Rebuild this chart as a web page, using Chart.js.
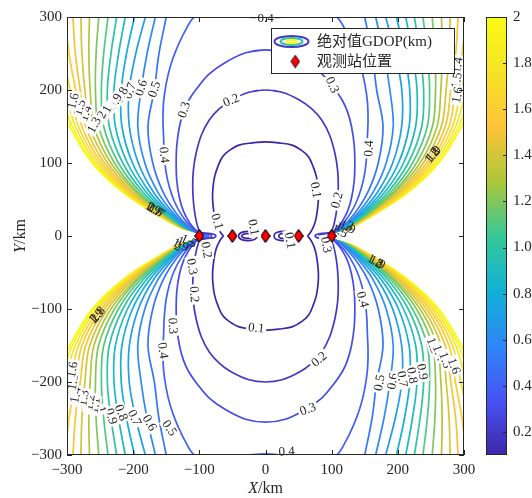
<!DOCTYPE html>
<html><head><meta charset="utf-8">
<script src="https://cdn.jsdelivr.net/npm/chart.js@4.4.1/dist/chart.umd.min.js"></script>
<style>
html,body{margin:0;padding:0;background:#ffffff;overflow:hidden;}
#wrap{position:relative;width:532px;height:498px;}
canvas{position:absolute;top:0;}
</style></head><body>
<div id="wrap">
<canvas id="main" width="532" height="498" style="left:0;width:532px;height:498px"></canvas>
<canvas id="cbar" width="66" height="498" style="left:466px;width:66px;height:498px"></canvas>
</div>
<script>
// ---------------- data ----------------
const levels = [0.1,0.2,0.3,0.4,0.5,0.6,0.7,0.8,0.9,1.0,1.1,1.2,1.3,1.4,1.5,1.6,1.7,1.8,1.9,2.0];
const stationX = [-100,-50,0,50,100];
const stationY = [0,0,0,0,0];
const xTickValues = [-300,-200,-100,0,100,200,300];
const yTickValues = [-300,-200,-100,0,100,200,300];
const cbarTickValues = [0.2,0.4,0.6,0.8,1.0,1.2,1.4,1.6,1.8,2.0];
const cbarTickLabels = ['0.2','0.4','0.6','0.8','1.0','1.2','1.4','1.6','1.8','2'];
const colorLimits = [0.1, 2.0];

// contour traces in the upper-left quadrant [x km, y km]; the figure is mirror-symmetric about both axes
const lv01 = [[0,129],[-20,127.5],[-40,124.5],[-55,117],[-65,108.7],[-72,95],[-77,81],[-79.5,65],[-80,52],[-79,40],[-77,27],[-74,16],[-70,8],[-66.5,3],[-64,0]];
const lv02 = [[0,200],[-25,197],[-52,186],[-70,174],[-85,159],[-97,138],[-105,113],[-109,90],[-110,68],[-109,48],[-107,32],[-104,18],[-101,9],[-98,5],[-90,3.8],[-81,3],[-76.5,1.6],[-75,0]];
const lv03 = [[0,255],[-30,251],[-60,238],[-85,222],[-103,203],[-116,186],[-124,170],[-130,150],[-134,125],[-135,100],[-134,75],[-130,52],[-124,34],[-116,20],[-108,10.5],[-102,6],[-96,4.2],[-88,3.3],[-83,1.8],[-81.5,0]];
const lv04 = [[0,298.5],[-30,300.2],[-60,301.5],[-90,301.8],[-107,300.5],[-122,280],[-135,255],[-144,232],[-150,209],[-154,184],[-155,159],[-154,135],[-153,111],[-150,86],[-145,66],[-138,48],[-129,32],[-119,19],[-110,10.5],[-104,6],[-99,4],[-92,3],[-87.5,1.6],[-86,0]];
const lv05 = [[-146,320],[-150,300],[-161,250],[-168,200],[-177.6,150],[-170.4,100],[-154.7,60],[-134.1,30],[-115.7,12],[-104,5.2],[-100,3.7],[-94.2,2.7],[-89.3,1.4],[-88.5,0]];
const lv06 = [[-161.5,320],[-166.5,300],[-179,250],[-188,200],[-193,150],[-182.4,100],[-162.7,60],[-138.3,30],[-117.6,12],[-104,5.2],[-100,3.7],[-95.2,2.7],[-91.3,1.4],[-90.5,0]];
const lv07 = [[-175.8,320],[-181.6,300],[-196,250],[-206,200],[-205.8,150],[-192.2,100],[-169.3,60],[-141.7,30],[-119.1,12],[-104,5.2],[-100,3.7],[-96,2.7],[-92.8,1.4],[-92,0]];
const lv08 = [[-193.2,320],[-198,300],[-210,250],[-218,200],[-217,150],[-201,100],[-175.1,60],[-144.7,30],[-120.5,12],[-104,5.2],[-100,3.7],[-96.5,2.7],[-93.8,1.4],[-93,0]];
const lv09 = [[-208,320],[-212,300],[-222,250],[-229,200],[-226.9,150],[-208.6,100],[-180.2,60],[-147.4,30],[-121.7,12],[-104,5.2],[-100,3.7],[-97,2.7],[-94.8,1.4],[-94,0]];
const lv10 = [[-221.6,320],[-225,300],[-233.5,250],[-239,200],[-236.1,150],[-215.7,100],[-185,60],[-149.9,30],[-122.8,12],[-104,5.2],[-100,3.7],[-97.4,2.7],[-95.6,1.4],[-94.8,0]];
const lv11 = [[-235.4,320],[-238,300],[-244.5,250],[-248,200],[-244.5,150],[-222.2,100],[-189.4,60],[-152.1,30],[-123.9,12],[-104,5.2],[-100,3.7],[-97.7,2.7],[-96.2,1.4],[-95.4,0]];
const lv12 = [[-250.4,320],[-252,300],[-256,250],[-257,200],[-252.3,150],[-228.2,100],[-193.4,60],[-154.2,30],[-124.7,12],[-104,5.2],[-100,3.7],[-98,2.7],[-96.8,1.4],[-96,0]];
const lv13 = [[-265.6,320],[-266,300],[-267,250],[-265,200],[-259.3,150],[-233.7,100],[-196.3,60],[-156.1,30],[-125.6,12],[-104,5.2],[-100,3.7],[-98.2,2.7],[-97.2,1.4],[-96.5,0]];
const lv14 = [[-279.6,320],[-279,300],[-277.5,250],[-273,200],[-265.7,150],[-238.6,100],[-200.3,60],[-157.8,30],[-126.4,12],[-104,5.2],[-100,3.7],[-98.4,2.7],[-97.5,1.4],[-96.9,0]];
const lv15 = [[-292.4,320],[-291,300],[-287.5,250],[-280,200],[-271.7,150],[-243.3,100],[-203.4,60],[-159.5,30],[-127.1,12],[-104,5.2],[-100,3.7],[-98.6,2.7],[-97.8,1.4],[-97.3,0]];
const lv16 = [[-305.4,320],[-303,300],[-297,250],[-287,200],[-277.4,150],[-247.6,100],[-206.4,60],[-161,30],[-127.8,12],[-104,5.2],[-100,3.7],[-98.8,2.7],[-98.1,1.4],[-97.6,0]];
const lv17 = [[-318.2,320],[-315,300],[-307,250],[-295,200],[-282.6,150],[-251.6,100],[-209.1,60],[-162.4,30],[-128.4,12],[-104,5.2],[-100,3.7],[-99,2.7],[-98.4,1.4],[-97.9,0]];
const lv18 = [[-330,320],[-326,300],[-316,250],[-303,200],[-287.5,150],[-255.5,100],[-211.6,60],[-163.7,30],[-129,12],[-104,5.2],[-100,3.7],[-99.2,2.7],[-98.7,1.4],[-98.2,0]];
const lv19 = [[-341.4,320],[-337,300],[-326,250],[-311,200],[-292,150],[-259,100],[-214,60],[-164.9,30],[-129.5,12],[-104,5.2],[-100,3.7],[-99.3,2.7],[-98.8,1.4],[-98.4,0]];
const lv20 = [[-352.8,320],[-348,300],[-336,250],[-320,200],[-296,150],[-262,100],[-216,60],[-166,30],[-130,12],[-104,5.2],[-100,3.7],[-99.4,2.7],[-99,1.4],[-98.6,0]];
// small closed 0.1 loops between the inner stations (left one; right one is its mirror)
const loopOuter = [[-41,0],[-38,4],[-31,6],[-22,6],[-15,4],[-13,0],[-15,-4],[-22,-6],[-31,-6],[-38,-4],[-41,0]];
const loopInner = [[-36,0],[-34,2.2],[-29,3.2],[-24,3.2],[-21,2],[-20,0],[-21,-2],[-24,-3.2],[-29,-3.2],[-34,-2.2],[-36,0]];

// inline contour labels [text, x, y, angle]
const contourLabels = [
 ['0.4',0,298.5,0],['0.4',32,-295,-3],['0.1',-14,-126,6],
 ['0.2',-52,186,-24],['0.3',-123,173,-72],['0.4',-153,111,84],['0.5',-168,201,-72],['0.6',-188,203,-72],['0.7',-205,199,-70],
 ['0.8',-218,193,-62],['0.9',-227,184,-62],['1',-235,176,-62],['1.1',-243,168,-62],['1.2',-251,160,-62],['1.3',-259,152,-62],
 ['1.4',-272,168,-70],['1.5',-281,176,-72],['1.6',-291,185,-75],['0.1',-73,20,72],
 ['0.3',101,207,66],['0.4',156,120,-88],['0.1',76,63,80],['0.2',108,49,-76],
 ['1.4',290,234,-80],['1.5',289,213,-80],['1.6',290,193,-80],
 ['0.2',81,-169,-40],['0.3',64,-237,-20],['0.4',147,-87,75],['0.5',172,-201,-80],['0.6',192,-199,-80],['0.7',207,-196,80],['0.8',222,-191,80],['0.9',237,-186,80],
 ['1.3',253,-150,70],['1.4',262,-160,70],['1.5',272,-170,70],['1.6',285,-178,70],
 ['0.2',-107.5,-80,86],['0.3',-140,-123,86],['0.4',-155,-157,82],['0.5',-145,-263,55],['0.6',-175,-256,60],['0.7',-198,-249,64],['0.8',-218,-242,68],['0.9',-233,-247,72],
 ['1',-248,-238,75],['1.1',-258,-232,-80],['1.2',-266,-228,-80],['1.3',-275,-222,-80],['1.4',-287,-218,-80],['1.5',-291,-200,-80],['1.6',-292,-183,-80],
 ['0.1',-18,12,80],['0.1',37,-6,80],['0.2',-89,-19,80],['0.3',-111,-42,80],['0.3',92,-12,80]
];
// piled-up labels where the high-level contours crowd together [text, x, y, angle]
const crowdedLabels = [
 ['1.9',-170,38,28],['1.8',-167,36,28],['2',-173,40,28],['1.7',-164,34,28],
 ['1.9',254,113,-48],['1.8',252,110,-48],['2',256,116,-48],
 ['1.9',-256,-110,-45],['1.8',-254,-107,-45],['2',-258,-113,-45],
 ['1.9',169,-36,28],['1.8',166,-34,28],['2',172,-38,28],
 ['1.9',-128,-12,25],['1.7',-122,-10,25],['1.5',-116,-7,25],['2',-132,-14,25],
 ['1.9',124,12,25],['1.7',118,10,25],['1.5',112,7,25],['2',128,14,25]
];

// ---------------- styling ----------------
const PARULA = [[0,0.2422,0.1504,0.6603],[0.125,0.2810,0.3228,0.9579],[0.25,0.1786,0.5289,0.9682],[0.375,0.0689,0.6948,0.8394],[0.5,0.2161,0.7843,0.5923],[0.625,0.6720,0.7793,0.2227],[0.75,0.9970,0.7659,0.2199],[0.875,0.9610,0.8890,0.1537],[1,0.9769,0.9839,0.0805]];
function parula(t){
  t = Math.max(0, Math.min(1, t));
  for (let i = 1; i < PARULA.length; i++) {
    if (t <= PARULA[i][0]) {
      const a = PARULA[i-1], b = PARULA[i], f = (t - a[0]) / (b[0] - a[0]);
      const c = [1,2,3].map(k => Math.round(255 * (a[k] + (b[k] - a[k]) * f)));
      return 'rgb(' + c.join(',') + ')';
    }
  }
  return 'rgb(249,251,21)';
}
function levelColor(v){ return parula((v - colorLimits[0]) / (colorLimits[1] - colorLimits[0])); }
const AX = '#262626';
const SERIF = '"Liberation Serif", "Times New Roman", serif';
function fmtNum(v){ const s = String(Math.round(v * 10) / 10); return v < 0 ? '\u2212' + s.slice(1) : s; }

// diamond marker
const diamondImg = document.createElement('canvas');
diamondImg.width = 10; diamondImg.height = 14;
(function(){
  const d = diamondImg.getContext('2d');
  d.beginPath(); d.moveTo(5,0.7); d.lineTo(9.3,7); d.lineTo(5,13.3); d.lineTo(0.7,7); d.closePath();
  d.fillStyle = '#ff0000'; d.fill(); d.strokeStyle = '#000'; d.lineWidth = 0.9; d.stroke();
})();

// ---------------- datasets ----------------
const traces = [lv01,lv02,lv03,lv04,lv05,lv06,lv07,lv08,lv09,lv10,lv11,lv12,lv13,lv14,lv15,lv16,lv17,lv18,lv19,lv20];
const toPts = arr => arr.map(([x,y]) => ({x, y}));
const datasets = [{
  label: 'stations', data: stationX.map((x,i) => ({x, y: stationY[i]})),
  pointStyle: diamondImg, pointRadius: 5, showLine: false, order: 0, clip: false
}];
levels.forEach((lv, i) => {
  const q = traces[i];
  const left = q.concat(q.slice(0, -1).reverse().map(([x,y]) => [x, -y]));
  const right = left.map(([x,y]) => [-x, y]);
  const col = levelColor(lv);
  const base = {showLine: true, borderColor: col, backgroundColor: col, borderWidth: 1.7, pointRadius: 0,
    pointHoverRadius: 0, tension: 0.35, fill: false, clip: 0, order: 1};
  if (q[0][0] === 0) {
    const loop = [right[1]].concat(left, right.slice().reverse().slice(1), [left[1]]);
    datasets.push(Object.assign({}, base, {data: toPts(loop)}));
  } else {
    datasets.push(Object.assign({}, base, {data: toPts(left)}));
    datasets.push(Object.assign({}, base, {data: toPts(right)}));
  }
});
[loopOuter, loopInner].forEach(l => {
  const wrapped = [l[l.length - 2]].concat(l, [l[1]]);
  const col = levelColor(levels[0]);
  [wrapped, wrapped.map(([x,y]) => [-x, y])].forEach(w => datasets.push({
    showLine: true, borderColor: col, borderWidth: 1.7, pointRadius: 0, tension: 0.35, fill: false, clip: 0, order: 1, data: toPts(w)
  }));
});

// ---------------- plugins ----------------
const labelPlugin = {
  id: 'clabels',
  afterDatasetsDraw(chart){
    const {ctx, scales: {x, y}} = chart;
    ctx.save();
    ctx.font = '13px ' + SERIF; ctx.textAlign = 'center'; ctx.textBaseline = 'middle';
    for (const [t, lx, ly, ang] of contourLabels) {
      ctx.save();
      ctx.translate(x.getPixelForValue(lx), y.getPixelForValue(ly));
      ctx.rotate(ang * Math.PI / 180);
      const w = ctx.measureText(t).width;
      ctx.fillStyle = '#ffffff'; ctx.fillRect(-w/2 - 2, -6, w + 4, 12);
      ctx.fillStyle = AX; ctx.fillText(t, 0, 0.5);
      ctx.restore();
    }
    for (const [t, lx, ly, ang] of crowdedLabels) {
      ctx.save();
      ctx.translate(x.getPixelForValue(lx), y.getPixelForValue(ly));
      ctx.rotate(ang * Math.PI / 180);
      ctx.fillStyle = AX; ctx.fillText(t, 0, 0.5);
      ctx.restore();
    }
    ctx.restore();
  }
};
const stationOnTop = {
  id: 'stationsTop',
  afterDatasetsDraw(chart){
    const {ctx, scales: {x, y}} = chart;
    stationX.forEach((sx, i) => {
      const px = x.getPixelForValue(sx), py = y.getPixelForValue(stationY[i]);
      ctx.drawImage(diamondImg, px - diamondImg.width / 2, py - diamondImg.height / 2);
    });
  }
};
function drawMixed(ctx, parts, cx, cy){
  let total = 0;
  parts.forEach(p => { ctx.font = p[1]; p.w = ctx.measureText(p[0]).width; total += p.w; });
  let xx = cx - total / 2;
  parts.forEach(p => { ctx.font = p[1]; ctx.fillText(p[0], xx, cy); xx += p.w; });
}
const framePlugin = {
  id: 'frame',
  afterDraw(chart){
    const {ctx, chartArea: a, scales: {x, y}} = chart;
    ctx.save();
    ctx.strokeStyle = AX; ctx.lineWidth = 1;
    ctx.strokeRect(a.left + 0.5, a.top + 0.5, a.right - a.left - 1, a.bottom - a.top - 1);
    ctx.beginPath();
    xTickValues.forEach(v => {
      const px = Math.round(x.getPixelForValue(v)) + 0.5;
      ctx.moveTo(px, a.bottom); ctx.lineTo(px, a.bottom - 5);
      ctx.moveTo(px, a.top); ctx.lineTo(px, a.top + 5);
    });
    yTickValues.forEach(v => {
      const py = Math.round(y.getPixelForValue(v)) + 0.5;
      ctx.moveTo(a.left, py); ctx.lineTo(a.left + 5, py);
      ctx.moveTo(a.right, py); ctx.lineTo(a.right - 5, py);
    });
    ctx.stroke();
    // axis titles
    ctx.fillStyle = AX; ctx.textAlign = 'left'; ctx.textBaseline = 'middle';
    drawMixed(ctx, [['X', 'italic 16px ' + SERIF], ['/km', '16px ' + SERIF]], (a.left + a.right) / 2, 489);
    ctx.save(); ctx.translate(21, (a.top + a.bottom) / 2); ctx.rotate(-Math.PI / 2);
    drawMixed(ctx, [['Y', 'italic 16px ' + SERIF], ['/km', '16px ' + SERIF]], 0, 0);
    ctx.restore();
    // legend
    const L = 271.5, T = 28.5, W = 183, H = 45;
    ctx.fillStyle = '#ffffff'; ctx.fillRect(L, T, W, H);
    ctx.strokeStyle = AX; ctx.lineWidth = 1; ctx.strokeRect(L, T, W, H);
    const cx = 291.5, cy = 41.5;
    [[17, 5.6, levelColor(0.2)], [11, 3.6, levelColor(1.0)], [5, 1.7, levelColor(2.0)]].forEach(([rx, ry, c]) => {
      ctx.beginPath(); ctx.ellipse(cx, cy, rx, ry, 0, 0, Math.PI * 2);
      ctx.strokeStyle = c; ctx.lineWidth = 2; ctx.stroke();
    });
    ctx.drawImage(diamondImg, 295.3 - diamondImg.width / 2, 61.5 - diamondImg.height / 2);
    ctx.fillStyle = AX; ctx.textAlign = 'left'; ctx.textBaseline = 'middle';
    ctx.font = '15px ' + SERIF + ', "Noto Sans CJK SC"';
    ctx.fillText('绝对值GDOP(km)', 317, 42);
    ctx.fillText('观测站位置', 317, 62);
    ctx.restore();
  }
};

const tickFont = {family: SERIF, size: 15};
new Chart(document.getElementById('main'), {
  type: 'scatter',
  data: {datasets},
  options: {
    responsive: false, animation: false, events: [],
    layout: {padding: {top: 17, right: 68, left: 0, bottom: 0}},
    plugins: {legend: {display: false}, tooltip: {enabled: false}},
    scales: {
      x: {type: 'linear', min: -300, max: 300,
        afterBuildTicks: s => { s.ticks = xTickValues.map(v => ({value: v})); },
        afterFit: s => { s.height = 43; },
        grid: {display: false, drawTicks: false}, border: {display: false},
        ticks: {padding: 6, color: AX, font: tickFont, maxRotation: 0, autoSkip: false, callback: v => fmtNum(v)}},
      y: {type: 'linear', min: -300, max: 300,
        afterBuildTicks: s => { s.ticks = yTickValues.map(v => ({value: v})); },
        afterFit: s => { s.width = 67; },
        grid: {display: false, drawTicks: false}, border: {display: false},
        ticks: {padding: 5, color: AX, font: tickFont, autoSkip: false, callback: v => fmtNum(v)}}
    }
  },
  plugins: [labelPlugin, stationOnTop, framePlugin]
});

// ---------------- colour bar ----------------
const cbarPlugin = {
  id: 'cbarFill',
  beforeDatasetsDraw(chart){
    const {ctx, chartArea: a, scales: {y}} = chart;
    ctx.save();
    for (let py = Math.floor(a.top); py < a.bottom; py++) {
      ctx.fillStyle = levelColor(y.getValueForPixel(py + 0.5));
      ctx.fillRect(a.left, py, a.right - a.left, 1);
    }
    ctx.strokeStyle = AX; ctx.lineWidth = 1;
    ctx.strokeRect(a.left + 0.5, a.top + 0.5, a.right - a.left - 1, a.bottom - a.top - 1);
    ctx.beginPath();
    cbarTickValues.forEach(v => {
      const py = Math.round(y.getPixelForValue(v)) + 0.5;
      ctx.moveTo(a.right, py); ctx.lineTo(a.right - 4, py);
    });
    ctx.stroke();
    ctx.restore();
  }
};
new Chart(document.getElementById('cbar'), {
  type: 'scatter',
  data: {datasets: []},
  options: {
    responsive: false, animation: false, events: [],
    layout: {padding: {left: 20, top: 17, bottom: 43, right: 0}},
    plugins: {legend: {display: false}, tooltip: {enabled: false}},
    scales: {
      x: {display: false, min: 0, max: 1},
      y: {position: 'right', min: colorLimits[0], max: colorLimits[1],
        afterBuildTicks: s => { s.ticks = cbarTickValues.map(v => ({value: v})); },
        afterFit: s => { s.width = 25; },
        grid: {display: false, drawTicks: false}, border: {display: false},
        ticks: {padding: 6, color: AX, font: tickFont, autoSkip: false,
          callback: (v, i) => cbarTickLabels[i]}}
    }
  },
  plugins: [cbarPlugin]
});
</script>
</body></html>
